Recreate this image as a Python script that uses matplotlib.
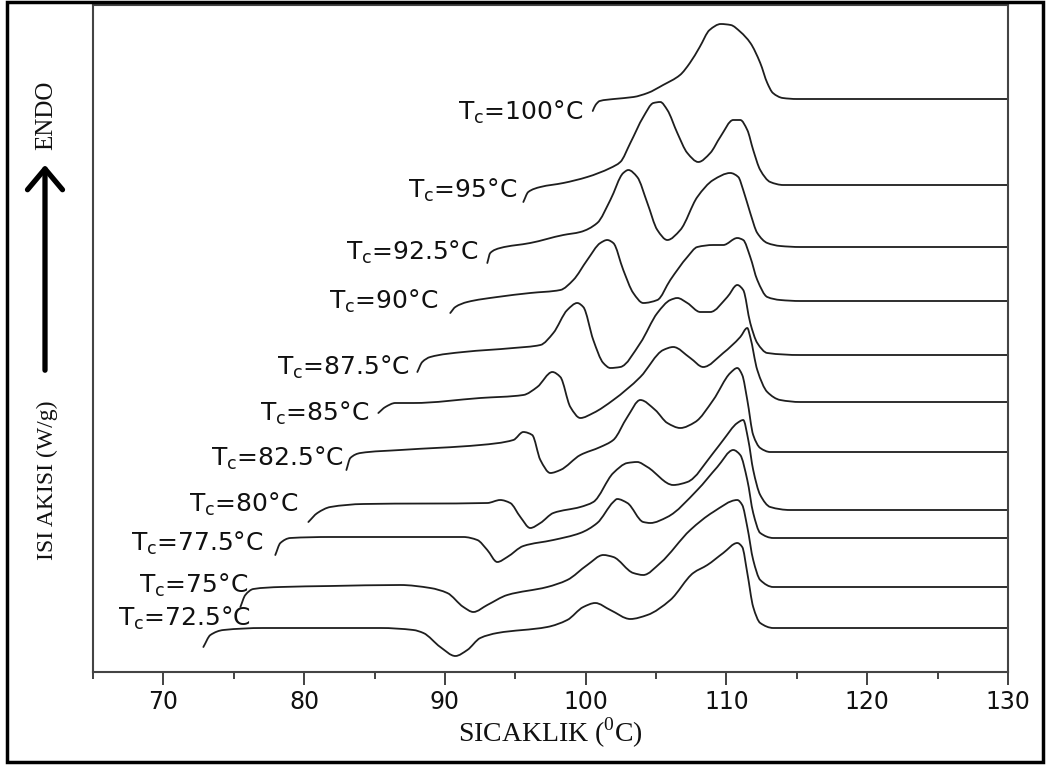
import matplotlib
matplotlib.use('Agg')
import matplotlib.pyplot as plt
from matplotlib.ticker import MultipleLocator
from matplotlib.patches import Rectangle, FancyArrowPatch, PathPatch
from matplotlib.path import Path

# DSC egrileri, her Tc icin sicaklik (C) ve isi akisi (keyfi birim, kaydirilmis)
t_725 = [72.84, 73.34, 74.26, 77.1, 85.41, 87.76, 88.47, 89.67, 90.74, 91.59, 92.51, 93.72, 97.27, 98.69,
         99.83, 100.68, 101.75, 103.17, 104.38, 106.01, 107.64, 108.64, 109.77, 110.77, 111.12, 111.48,
         111.9, 112.4, 113.33, 115.24, 130]
q_725 = [25, 37, 42, 44, 44, 42, 39, 25, 16, 22, 34, 39, 45, 52,
         65, 69, 62, 53, 57, 72, 99, 107, 119, 129, 125, 99,
         65, 49, 44, 44, 44]

t_75 = [75.47, 75.82, 76.39, 78.31, 81.86, 86.83, 88.96, 90.17, 91.31, 92.02, 93.01, 94.43, 97.27, 98.69,
        100.11, 101.25, 101.96, 103.38, 104.09, 105.3, 107.43, 109.06, 110.77, 111.12, 111.48, 111.9,
        112.4, 113.33, 115.24, 130]
q_75 = [65, 77, 83, 85, 86, 87, 84, 79, 65, 60, 67, 77, 85, 92,
        107, 117, 115, 99, 97, 109, 142, 160, 172, 167, 145, 112,
        92, 85, 85, 85]

t_775 = [77.95, 78.31, 79.02, 81.86, 91.31, 92.3, 93.01, 93.72, 94.43, 95.57, 97.7, 99.62, 100.82, 101.96,
         102.24, 102.96, 104.09, 104.59, 105.8, 107.93, 109.35, 110.48, 110.98, 111.48, 111.9, 112.4,
         113.33, 115.24, 130]
q_775 = [117, 129, 134, 135, 135, 132, 122, 110, 115, 126, 132, 139, 149, 170,
         173, 169, 150, 149, 155, 182, 205, 222, 217, 192, 159, 139,
         134, 134, 134]

t_80 = [80.3, 80.94, 81.86, 84.21, 93.01, 93.93, 94.64, 95.36, 96.06, 96.78, 97.7, 99.62, 100.54, 101.96,
        102.96, 103.66, 104.38, 106.22, 107.22, 109.06, 109.77, 110.77, 111.19, 111.55, 111.9, 112.4,
        113.11, 114.53, 130]
q_80 = [150, 159, 165, 168, 169, 172, 169, 155, 144, 149, 159, 165, 170, 199,
        209, 210, 205, 187, 190, 219, 232, 249, 252, 232, 202, 177,
        165, 162, 162]

t_825 = [83.0, 83.28, 84.0, 86.83, 92.51, 94.86, 95.57, 96.2, 96.78, 97.49, 98.2, 99.62, 101.04, 101.96,
         102.96, 103.88, 104.94, 105.8, 106.72, 107.78, 109.06, 110.27, 110.77, 111.12, 111.48, 111.9,
         112.4, 113.11, 115.24, 130]
q_825 = [202, 214, 219, 222, 227, 232, 240, 237, 212, 199, 202, 217, 225, 232,
         255, 272, 262, 249, 244, 250, 272, 299, 304, 297, 272, 237,
         224, 220, 220, 220]

t_85 = [85.27, 85.77, 86.48, 87.76, 92.51, 95.57, 96.56, 97.63, 98.2, 98.91, 99.62, 100.54, 101.96, 103.88,
        105.51, 106.22, 107.43, 108.35, 109.77, 110.98, 111.48, 111.69, 112.19, 112.9, 113.82, 115.24, 130]
q_85 = [259, 265, 269, 269, 274, 277, 285, 300, 295, 265, 254, 259, 272, 295,
        322, 325, 314, 305, 319, 335, 344, 335, 302, 280, 272, 270, 270]

t_875 = [88.04, 88.39, 88.96, 91.31, 94.86, 96.78, 97.7, 98.69, 99.4, 99.83, 100.54, 101.25, 101.75, 102.46,
         103.88, 105.09, 106.01, 106.51, 107.22, 108.14, 108.85, 110.06, 110.77, 111.19, 111.69, 112.19,
         112.9, 115.24, 130]
q_875 = [300, 310, 315, 320, 324, 327, 339, 362, 369, 365, 332, 309, 304, 305,
         329, 359, 372, 374, 369, 360, 360, 375, 387, 382, 349, 329,
         319, 317, 317]

t_90 = [90.38, 90.74, 91.59, 93.72, 96.06, 98.2, 99.12, 100.11, 101.04, 101.53, 101.96, 102.67, 103.38, 104.09,
        105.09, 106.01, 107.22, 107.93, 109.06, 109.77, 110.77, 111.19, 111.69, 112.19, 112.9, 113.82,
        115.24, 130]
q_90 = [359, 365, 370, 375, 379, 382, 392, 412, 429, 432, 429, 402, 379, 369,
        372, 392, 415, 425, 427, 427, 434, 432, 415, 392, 375, 372,
        371, 371]

t_925 = [93.01, 93.22, 93.93, 96.06, 98.41, 99.62, 100.82, 101.75, 102.67, 103.03, 103.66, 104.38, 105.09,
         105.8, 106.72, 107.93, 109.06, 110.27, 110.84, 111.19, 111.69, 112.19, 112.9, 113.82, 115.24, 130]
q_925 = [409, 419, 424, 429, 437, 440, 449, 472, 499, 502, 495, 469, 442,
         432, 442, 475, 492, 499, 495, 482, 459, 439, 429, 426, 425, 425]

t_95 = [95.57, 95.92, 96.78, 98.41, 100.11, 101.75, 102.46, 103.17, 104.09, 104.81, 105.3, 105.8, 106.51,
        107.22, 108.0, 108.85, 109.56, 110.48, 110.98, 111.48, 111.9, 112.4, 113.11, 114.04, 115.24, 130]
q_95 = [470, 480, 485, 489, 495, 504, 510, 529, 555, 569, 570, 562, 539,
        519, 510, 519, 535, 552, 552, 542, 522, 502, 490, 487, 487, 487]

t_100 = [100.5, 100.7, 101.0, 102.0, 103.4, 104.4, 105.5, 106.7, 107.4, 108.1, 108.8, 109.6, 110.3,
         111.0, 111.7, 112.4, 112.9, 113.3, 114.0, 115.0, 130]
q_100 = [561, 567, 571, 573, 575, 579, 587, 597, 609, 625, 642, 648, 647,
         640, 629, 609, 589, 579, 574, 573, 573]

tc_labels = ['72.5', '75', '77.5', '80', '82.5', '85', '87.5', '90', '92.5', '95', '100']
curves = [(t_725, q_725), (t_75, q_75), (t_775, q_775), (t_80, q_80), (t_825, q_825), (t_85, q_85),
          (t_875, q_875), (t_90, q_90), (t_925, q_925), (t_95, q_95), (t_100, q_100)]

# etiketlerin sag-orta konumlari (yerlesim)
label_pos = [(76.2, 54), (76.0, 87), (77.1, 129), (79.6, 168), (82.8, 214), (84.6, 259),
             (87.5, 305), (89.5, 371), (92.4, 420), (95.1, 482), (99.8, 560)]


def smooth_path(x, y):
    # okunan noktalarin hepsinden gecen yumusak (Hermite/Bezier) egri
    n = len(x)
    h = [x[i + 1] - x[i] for i in range(n - 1)]
    d = [(y[i + 1] - y[i]) / h[i] for i in range(n - 1)]
    m = [d[0]] + [0.0] * (n - 2) + [d[-1]]
    for i in range(1, n - 1):
        if d[i - 1] * d[i] > 0:
            w1 = 2 * h[i] + h[i - 1]
            w2 = h[i] + 2 * h[i - 1]
            m[i] = (w1 + w2) / (w1 / d[i - 1] + w2 / d[i])
    verts = [(x[0], y[0])]
    codes = [Path.MOVETO]
    for i in range(n - 1):
        verts += [(x[i] + h[i] / 3, y[i] + m[i] * h[i] / 3),
                  (x[i + 1] - h[i] / 3, y[i + 1] - m[i + 1] * h[i] / 3),
                  (x[i + 1], y[i + 1])]
        codes += [Path.CURVE4] * 3
    return Path(verts, codes)


fig = plt.figure(figsize=(10.5, 7.65), dpi=100)
ax = fig.add_axes([93 / 1050, 1 - 672 / 765, (1008 - 93) / 1050, (672 - 5) / 765])

for (t, q), lab, (lx, ly) in zip(curves, tc_labels, label_pos):
    ax.add_patch(PathPatch(smooth_path(t, q), fill=False, ec='#1e1e1e', lw=1.3,
                           capstyle='round', joinstyle='round'))
    ax.text(lx, ly, 'T$_\\mathregular{c}$=' + lab + '°C', ha='right', va='center',
            fontsize=18, family='DejaVu Sans', color='#111111')

ax.set_xlim(65, 130)
ax.set_ylim(0, 667)
ax.xaxis.set_major_locator(MultipleLocator(10))
ax.xaxis.set_minor_locator(MultipleLocator(5))
ax.set_yticks([])
ax.tick_params(axis='x', which='major', direction='out', length=9, width=1.3, pad=4,
               labelsize=17, colors='#333333', labelcolor='#111111')
ax.tick_params(axis='x', which='minor', direction='out', length=5, width=1.3, colors='#333333')
for s in ax.spines.values():
    s.set_linewidth(1.5)
    s.set_color('#444444')

ax.set_xlabel('SICAKLIK ($^\\mathregular{0}$C)', family='Liberation Serif', fontsize=20,
              labelpad=1, color='#111111')

fig.text(47 / 1050, 1 - 480 / 765, 'ISI AKISI (W/g)', rotation=90, ha='center', va='center',
         family='Liberation Serif', fontsize=17, color='#111111')
fig.text(46 / 1050, 1 - 115 / 765, 'ENDO', rotation=90, ha='center', va='center',
         family='Liberation Serif', fontsize=18, color='#111111')

arrow = FancyArrowPatch((45 / 1050, 1 - 373 / 765), (45 / 1050, 1 - 162 / 765),
                        transform=fig.transFigure, arrowstyle='->,head_length=0.5,head_width=0.42',
                        mutation_scale=30, lw=3.8, color='black')
fig.add_artist(arrow)

fig.add_artist(Rectangle((7 / 1050, 1 - 762 / 765), (1043 - 7) / 1050, (762 - 2) / 765,
                         transform=fig.transFigure, fill=False, lw=2.5, ec='black'))

fig.savefig('out.png', dpi=100)
